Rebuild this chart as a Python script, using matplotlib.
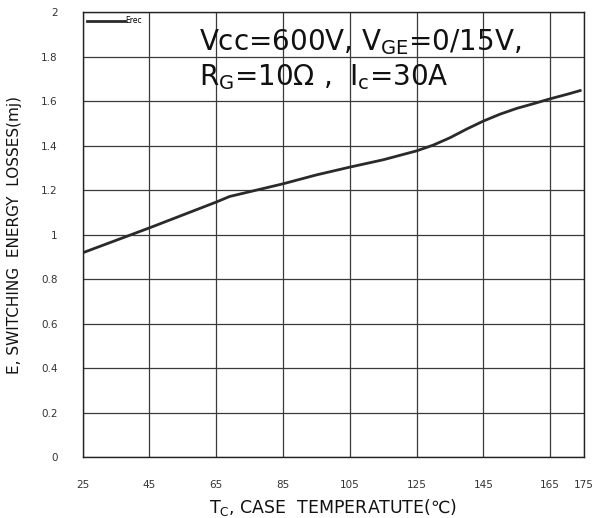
import numpy as np
import matplotlib
matplotlib.use("Agg")
from matplotlib import pyplot as plt

# Erec vs case temperature
temp_c = [25, 45, 65, 69, 85, 95, 105, 115, 125, 130, 135, 140, 145, 150, 155, 160, 165, 170, 174]
erec_mj = [0.92, 1.032, 1.148, 1.173, 1.23, 1.27, 1.305, 1.338, 1.378, 1.404, 1.437,
           1.476, 1.512, 1.543, 1.569, 1.59, 1.612, 1.632, 1.649]

x_ticks = [25, 45, 65, 85, 105, 125, 145, 165, 175]
y_ticks = [0, 0.2, 0.4, 0.6, 0.8, 1, 1.2, 1.4, 1.6, 1.8, 2]
y_tick_labels = ["0", "0.2", "0.4", "0.6", "0.8", "1", "1.2", "1.4", "1.6", "1.8", "2"]

plt.rcParams['font.family'] = ['DejaVu Sans', 'Noto Sans CJK SC']

fig = plt.figure(figsize=(5.97, 5.18), dpi=100)
ax = fig.add_axes([0.1385, 0.1168, 0.8389, 0.8591])

ax.plot(temp_c, erec_mj, color='#2a2a2a', lw=2.0, label='Erec')

ax.set_xlim(25, 175)
ax.set_ylim(0, 2)
ax.set_xticks(x_ticks)
ax.set_xticklabels([str(t) for t in x_ticks], fontsize=7.5, color='#333333')
ax.set_yticks(y_ticks)
ax.set_yticklabels(y_tick_labels, fontsize=7.5, color='#333333')
ax.tick_params(axis='x', length=0, pad=16)
ax.tick_params(axis='y', length=0, pad=18)
ax.grid(True, color='#3a3a3a', lw=0.9)
for s in ax.spines.values():
    s.set_color('#222222')
    s.set_linewidth(1.0)

ax.set_xlabel(r"T$_{\mathrm{C}}$, CASE  TEMPERATUTE(℃)", fontsize=12.5, labelpad=5, color='#111111')
ax.set_ylabel("E, SWITCHING  ENERGY  LOSSES(mj)", fontsize=11, labelpad=14, color='#111111')

ax.text(0.232, 0.934, r"Vcc=600V, V$_{\mathrm{GE}}$=0/15V,", transform=ax.transAxes,
        fontsize=20, color='#111111', va='center', ha='left')
ax.text(0.232, 0.855, r"R$_{\mathrm{G}}$=10$\Omega$ ,  I$_{\mathrm{c}}$=30A", transform=ax.transAxes,
        fontsize=20, color='#111111', va='center', ha='left')

ax.legend(loc='upper left', frameon=False, fontsize=5.5, handlelength=5.0, handletextpad=0.1,
          borderaxespad=0.3, borderpad=0.2)

fig.savefig('out.png', dpi=100)
